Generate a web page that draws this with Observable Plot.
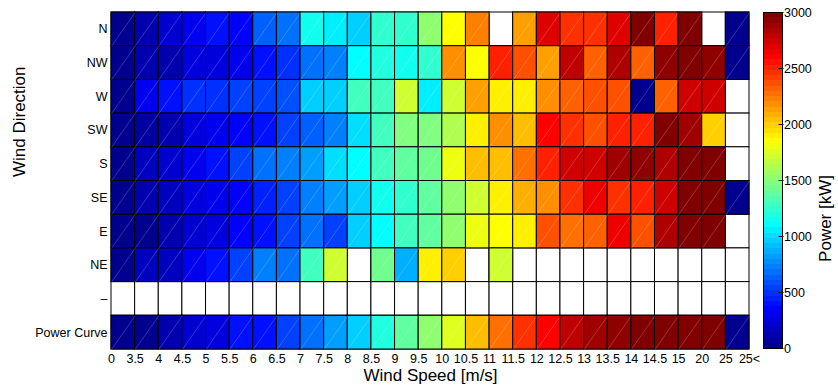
<!DOCTYPE html>
<html><head><meta charset="utf-8">
<script src="https://cdn.jsdelivr.net/npm/d3@7"></script>
<script src="https://cdn.jsdelivr.net/npm/@observablehq/plot@0.6"></script>
<style>
body{margin:0;background:#fff}
#wrap{position:relative;width:838px;height:391px}
#wrap svg{position:absolute;top:0;overflow:visible}
</style>
</head><body><div id="wrap"></div>
<script>
// Row categories (top to bottom)
const directions = ["N","NW","W","SW","S","SE","E","NE","–","Power Curve"];
// Wind-speed bin edge labels
const speedLabels = ["0","3.5","4","4.5","5","5.5","6","6.5","7","7.5","8","8.5","9","9.5","10","10.5","11","11.5","12","12.5","13","13.5","14","14.5","15","20","25","25<"];
// Power per bin [kW], null = no data
const rowN  = [20,120,210,310,400,350,610,660,1140,1035,960,1265,1220,1500,1870,2205,null,2110,2715,2440,2450,2680,2970,2520,2980,null,0];
const rowNW = [20,110,120,240,260,310,410,470,660,710,1080,1200,1160,1260,2200,1850,2520,2390,2110,2790,2300,2850,2340,2940,3000,2940,0];
const rowW  = [20,290,380,470,480,560,560,580,960,940,1270,1270,1690,1060,1720,2110,1875,1875,2200,2300,2370,2390,30,2340,2720,2720,null];
const rowSW = [40,50,100,260,310,360,410,540,610,710,1030,1270,1460,1460,1600,1875,2200,2020,2580,2440,2390,2500,2530,2990,2880,1970,null];
const rowS  = [20,160,210,290,380,560,660,710,810,1000,1080,1310,1360,1410,1790,2020,2060,2250,2510,2720,2740,2880,2940,2830,2970,3000,null];
const rowSE = [30,120,170,260,310,340,460,560,710,810,940,1125,1260,1360,1500,1690,1875,2090,2200,2440,2625,2480,2530,2740,2990,2960,0];
const rowE  = [20,15,100,190,260,340,410,520,660,520,940,1110,1310,1360,1500,1800,1850,1875,2390,2250,2300,2625,2390,2850,3000,2960,null];
const rowNE = [30,150,170,290,380,560,710,690,1270,1690,null,1410,890,1875,2000,null,1720,null,null,null,null,null,null,null,null,null,null];
const rowDash = [null,null,null,null,null,null,null,null,null,null,null,null,null,null,null,null,null,null,null,null,null,null,null,null,null,null,null];
const rowPowerCurve = [10,40,120,190,260,380,410,560,660,830,960,1210,1360,1500,1770,2020,2280,2440,2620,2790,2880,2940,3000,2970,2970,2970,0];
const colorbarTicks = [0,500,1000,1500,2000,2500,3000];

const series = [rowN,rowNW,rowW,rowSW,rowS,rowSE,rowE,rowNE,rowDash,rowPowerCurve];

// MATLAB jet(64)
function jet64() {
  const n = 16, u = [];
  for (let i = 1; i <= n; i++) u.push(i / n);
  for (let i = 0; i < n - 1; i++) u.push(1);
  for (let i = n; i >= 1; i--) u.push(i / n);
  const out = [];
  for (let k = 1; k <= 64; k++) {
    const r = (k - 24 >= 1 && k - 24 <= u.length) ? u[k - 25] : 0;
    const g = (k - 8 >= 1 && k - 8 <= u.length) ? u[k - 9] : 0;
    const b = (k + 8 >= 1 && k + 8 <= u.length) ? u[k + 7] : 0;
    out.push(d3.rgb(r * 255, g * 255, b * 255).formatHex());
  }
  return out;
}
const jetColors = jet64();
const thresholds = d3.range(1, 64).map(k => k * 3000 / 64);
const colorOpts = {type: "threshold", domain: thresholds, range: jetColors};

const cells = [];
series.forEach((vals, r) => vals.forEach((v, c) => cells.push({r, c, v})));
const colored = cells.filter(d => d.v != null);

const font = "'Liberation Sans', Arial, Helvetica, sans-serif";

const main = Plot.plot({
  width: 838, height: 391,
  marginLeft: 111, marginRight: 89, marginTop: 12, marginBottom: 42,
  style: {fontFamily: font, fontSize: "12.5px", color: "#000", background: "transparent", overflow: "visible"},
  x: {type: "linear", domain: [0, 27], ticks: d3.range(0, 28), tickFormat: i => speedLabels[i], tickSize: 0, tickPadding: 5, label: null},
  y: {type: "linear", domain: [10, 0], ticks: d3.range(10).map(i => i + 0.5), tickFormat: v => directions[Math.floor(v)], tickSize: 0, tickPadding: 4, label: null},
  color: colorOpts,
  marks: [
    Plot.rect(cells, {x1: d => d.c, x2: d => d.c + 1, y1: d => d.r, y2: d => d.r + 1, fill: "white", stroke: "black", strokeWidth: 1}),
    Plot.rect(colored, {x1: d => d.c, x2: d => d.c + 1, y1: d => d.r, y2: d => d.r + 1, fill: d => d.v, stroke: "black", strokeWidth: 1}),
    Plot.link(colored, {x1: d => d.c, y1: d => d.r + 1, x2: d => d.c + 1, y2: d => d.r, stroke: "white", strokeWidth: 0.5, strokeOpacity: 0.4}),
    Plot.text(["Wind Direction"], {frameAnchor: "left", text: d => d, rotate: -90, dx: -92, dy: -4, fontSize: 17, lineAnchor: "middle"}),
    Plot.text(["Wind Speed [m/s]"], {frameAnchor: "bottom", text: d => d, dy: 26, fontSize: 17, lineAnchor: "middle"})
  ]
});
main.style.left = "0px";

const levels = d3.range(64).map(k => ({lo: k * 3000 / 64, hi: (k + 1) * 3000 / 64, mid: (k + 0.5) * 3000 / 64}));
const bar = Plot.plot({
  width: 98, height: 391,
  marginLeft: 23, marginRight: 56, marginTop: 12, marginBottom: 43,
  style: {fontFamily: font, fontSize: "12.5px", color: "#000", background: "transparent", overflow: "visible"},
  x: {domain: [0, 1], axis: null},
  y: {domain: [0, 3000], ticks: colorbarTicks, tickFormat: d => String(d), axis: "right", tickSize: 0, tickPadding: 1.5, label: null},
  color: colorOpts,
  marks: [
    Plot.rect(levels, {x1: 0, x2: 1, y1: "lo", y2: "hi", fill: "mid", shapeRendering: "crispEdges"}),
    Plot.ruleY(colorbarTicks, {x1: 0.82, x2: 1.08, stroke: "black", strokeWidth: 1}),
    Plot.frame({stroke: "black", strokeWidth: 1}),
    Plot.text(["Power [kW]"], {frameAnchor: "right", text: d => d, rotate: -90, dx: 43, dy: -5.5, fontSize: 17, lineAnchor: "middle"})
  ]
});
bar.style.left = "740px";

const wrap = document.getElementById("wrap");
wrap.appendChild(main);
wrap.appendChild(bar);
</script>
</body></html>
